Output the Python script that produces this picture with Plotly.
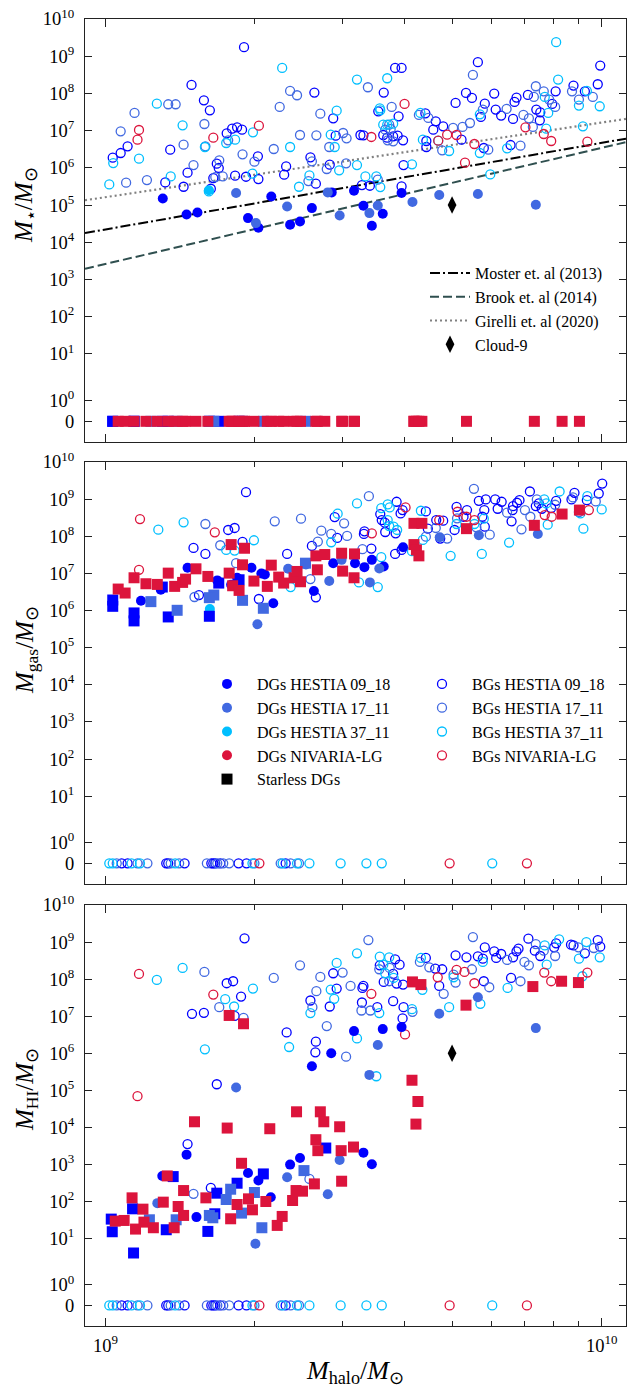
import numpy as np
import plotly.graph_objects as go

# ---------------- DATA (log10 values) ----------------
# x = log10(M_halo/Msun), y = log10(M/Msun)

# ---- Top panel: stellar mass ----
bg0918_star = [(9.279,9.242),(9.173,8.229),(9.421,8.022),(9.198,7.816),(9.210,7.547),(9.459,7.332),(9.244,6.928),
 (9.255,7.054),(9.265,7.090),(9.275,7.027),(9.464,6.865),(9.044,6.578),(9.030,6.399),(9.014,6.274),(9.130,6.489),
 (9.224,6.112),(9.228,5.996),(9.307,6.309),(9.364,6.040),(9.360,5.816),(9.452,6.085),(9.413,6.283),(9.120,5.610),
 (9.165,5.870),(9.157,5.493),(9.217,5.726),(9.212,5.439),(9.261,5.789),(9.283,5.762),(9.308,5.700),(9.424,5.574),
 (9.751,8.839),(9.998,8.749),(9.584,8.686),(9.597,8.686),(9.944,8.211),(9.993,8.247),(9.561,8.022),(9.727,8.013),
 (9.739,7.879),(9.706,7.744),(9.784,7.996),(9.852,7.960),(9.829,7.888),(9.825,7.771),(9.908,8.058),(9.967,8.058),
 (9.901,7.717),(9.550,7.520),(9.765,7.726),(9.757,7.368),(9.787,7.565),(9.798,7.404),(9.822,7.314),(9.869,7.565),
 (9.877,7.493),(9.876,7.278),(9.591,7.386),(9.645,7.466),(9.666,7.251),(9.681,7.117),(9.661,7.027),(9.560,6.883),
 (9.514,6.883),(9.520,6.874),(9.718,6.758),(9.568,6.812),(9.580,6.848),(9.589,6.865),(9.600,6.740),(9.647,6.722),
 (9.647,6.561),(9.763,6.534),(9.817,6.614),(9.601,6.076),(9.533,5.520),(9.517,5.538),(9.597,5.502)]
bg1711_star = [(9.372,8.067),(9.386,7.951),(9.126,7.709),(9.141,7.709),(9.351,7.637),(9.058,7.475),(9.433,7.457),
 (9.030,6.982),(9.199,7.179),(9.392,6.883),(9.425,6.874),(9.479,6.937),(9.486,6.794),(9.157,6.623),(9.201,6.578),
 (9.247,6.740),(9.276,6.363),(9.339,6.507),(9.451,6.561),(9.416,6.175),(9.300,6.166),(9.229,6.202),(9.177,6.076),
 (9.446,5.969),(9.485,6.121),(9.041,5.601),(9.083,5.673),(9.221,5.753),(9.236,5.771),(9.409,5.646),
 (9.741,8.498),(9.529,8.166),(9.868,8.193),(9.864,7.906),(9.884,8.058),(9.895,7.834),(9.907,7.637),(9.941,8.058),
 (9.983,7.906),(9.955,7.834),(9.577,7.637),(9.761,7.565),(9.809,7.583),(9.843,7.422),(9.854,7.332),(9.632,7.422),
 (9.651,7.341),(9.564,7.027),(9.575,7.045),(9.572,7.161),(9.701,7.072),(9.720,7.099),(9.735,7.206),(9.569,6.740),
 (9.580,6.713),(9.679,6.471),(9.772,6.489),(9.837,6.596),(9.862,7.099),(9.549,5.682)]
bg3711_star = [(9.356,8.686),(9.103,7.726),(9.466,7.538),(9.155,7.143),(9.297,6.955),(9.454,6.892),(9.067,6.247),
 (9.015,6.130),(9.200,6.561),(9.243,6.668),(9.261,6.758),(9.372,6.561),(9.462,6.561),(9.471,5.933),(9.007,5.556),
 (9.131,5.771),(9.208,5.368),(9.296,5.843),(9.390,5.493),(9.411,5.798),
 (9.909,9.377),(9.507,8.372),(9.568,8.408),(9.913,8.372),(9.971,8.067),(9.886,7.906),(9.997,7.655),(9.955,7.673),
 (9.553,7.601),(9.554,7.547),(9.755,7.439),(9.893,7.475),(9.635,7.475),(9.560,7.161),(9.568,7.161),(9.580,7.188),
 (9.640,6.758),(9.671,6.731),(9.693,6.453),(9.755,6.399),(9.810,6.525),(9.889,7.054),(9.963,7.117),(9.618,6.094),
 (9.507,6.076),(9.776,5.825),(9.524,5.771),(9.546,5.771),(9.554,5.484)]
bgniv_star = [(9.067,7.018),(9.064,6.758),(9.309,7.135),(9.217,6.812),(9.603,7.717),(9.536,6.830),(9.689,6.892),
 (9.708,6.883),(9.671,6.731),(9.744,6.641),(9.847,7.090),(9.884,6.910),(9.899,6.722),(9.972,6.704),(9.725,6.139)]
dg0918_star = [(9.115,5.179),(9.163,4.749),(9.185,4.803),(9.334,5.233),(9.287,4.650),(9.308,4.390),(9.372,4.471),
 (9.392,4.561),(9.416,4.919),(9.456,5.341),(9.501,5.386),(9.520,4.982),(9.537,4.444),(9.559,4.767),(9.597,5.323)]
dg1711_star = [(9.263,5.323),(9.366,4.964),(9.303,4.516),(9.448,5.341),(9.472,4.722),(9.532,4.785),(9.549,4.991),
 (9.619,5.081),(9.673,5.269),(9.751,5.296),(9.868,5.009)]
dg3711_star = [(9.208,5.400)]

# relations (straight lines in log-log: end points)
moster_logmh = [8.958, 10.05]
moster_logms = [4.250, 6.785]
brook_logmh = [8.958, 10.05]
brook_logms = [3.289, 6.690]
girelli_logmh = [8.958, 10.05]
girelli_logms = [5.130, 7.315]
cloud9_mh = 5e9
cloud9_mstar = 1e5
cloud9_mhi = 1e6

# ---- Middle panel: gas mass ----
bg0918_gas = [(9.283,9.188),(9.247,8.169),(9.260,8.223),(9.177,7.686),(9.201,7.525),(9.276,7.847),(9.462,8.517),
 (9.416,7.740),(9.467,7.954),(9.366,7.525),(9.188,6.417),(9.309,6.310),(9.424,6.355),
 (10.002,9.420),(9.995,9.152),(9.856,9.206),(9.946,9.170),(9.940,8.991),(9.971,8.973),(9.587,8.929),(9.554,8.598),
 (9.557,8.437),(9.563,8.366),(9.564,8.115),(9.585,8.080),(9.595,8.616),(9.599,8.705),(9.646,8.669),(9.708,8.794),
 (9.729,8.705),(9.722,8.526),(9.704,8.169),(9.753,8.955),(9.767,8.991),(9.764,8.705),(9.760,8.526),(9.765,8.258),
 (9.786,8.991),(9.799,8.929),(9.791,8.741),(9.821,8.705),(9.822,8.812),(9.830,8.902),(9.835,8.973),(9.819,8.401),
 (9.868,8.812),(9.874,8.884),(9.880,8.741),(9.899,8.759),(9.909,8.955),(9.667,8.437),(9.681,8.419),(9.650,8.205),
 (9.675,7.937),(9.521,8.062),(9.522,8.133),(9.536,7.668),(9.584,7.525),(9.597,7.633)]
bg1711_gas = [(9.201,8.330),(9.231,7.758),(9.341,8.401),(9.394,8.473),(9.481,8.348),(9.435,8.151),(9.428,7.856),
 (9.455,8.062),(9.487,8.008),(9.179,6.364),(9.413,6.846),(9.263,7.275),(9.743,9.277),(9.531,9.080),(9.943,9.045),
 (9.989,8.937),(9.810,8.634),(9.709,8.482),(9.748,8.240),(9.775,8.044),(9.839,8.187),(9.846,8.705),(9.857,8.526),
 (9.870,8.991),(9.907,8.848),(9.955,8.651),(9.689,7.937),(9.666,8.223),(9.518,7.651),(9.502,7.454),(9.646,7.990)]
bg3711_gas = [(9.106,8.178),(9.157,8.374),(9.243,7.633),(9.260,7.615),(9.299,7.892),(9.468,8.607),(9.455,7.838),
 (9.373,6.632),(9.393,6.784),(9.507,8.884),(9.916,9.206),(9.972,9.080),(10.001,8.723),(9.569,8.857),(9.573,8.777),
 (9.556,8.759),(9.569,8.437),(9.572,8.276),(9.581,8.258),(9.588,8.169),(9.636,8.687),(9.708,8.330),(9.744,8.330),
 (9.763,8.473),(9.885,8.991),(9.889,8.884),(9.892,8.312),(9.958,8.616),(9.964,8.205),(9.814,7.829),(9.759,7.525),
 (9.696,7.472),(9.556,7.436),(9.618,7.597),(9.511,6.757),(9.549,6.632),(9.640,7.901)]
bgniv_gas = [(9.069,8.464),(9.220,8.106),(9.067,7.097),(9.605,8.777),(9.710,8.660),(9.744,8.437),(9.728,8.526),
 (9.886,8.571),(9.900,8.526),(9.975,8.705),(9.673,8.437),(9.537,8.080)]
dg0918_gas = [(9.165,7.150),(9.294,7.150),(9.314,6.998),(9.321,6.971),(9.420,6.524),(9.459,7.275),(9.338,6.194),
 (9.265,6.882),(9.253,6.694),(9.225,6.811),(9.111,6.560),(9.071,6.265),(9.503,7.275),(9.522,7.168),(9.537,7.365),
 (9.561,7.186),(9.600,7.704)]
dg1711_gas = [(9.368,7.123),(9.404,7.240),(9.451,6.793),(9.476,7.365),(9.306,5.631),(9.552,7.132),(9.533,6.757),
 (9.674,7.972),(9.753,8.026),(9.872,8.062)]
dg3711_gas = [(9.210,6.042)]
sqniv_gas = [(9.025,6.578),(9.039,6.471),(9.057,6.882),(9.081,6.721),(9.104,6.703),(9.126,7.007),(9.139,6.650),
 (9.155,6.757),(9.161,6.846),(9.182,7.123),(9.206,6.918),(9.253,7.776),(9.280,7.677),(9.276,7.231),(9.249,7.007),
 (9.256,6.667),(9.269,6.542),(9.299,6.793),(9.326,6.650),(9.334,7.222),(9.349,6.900),(9.359,6.739),(9.380,6.882),
 (9.386,7.052),(9.393,6.775),(9.427,7.097),(9.424,7.472),(9.442,7.508),(9.478,7.061),(9.476,7.543),(9.502,7.525),
 (9.501,6.882),(9.622,8.348),(9.638,8.348),(9.622,7.776),(9.627,7.633),(9.632,7.472),(9.728,8.205),(9.865,8.294),
 (9.921,8.598),(9.956,8.705)]
sq0918_gas = [(9.014,6.283),(9.014,6.113),(9.057,5.935),(9.057,5.720),(9.126,5.827),(9.209,5.845),(9.114,6.632),
 (9.228,6.739),(9.269,6.828)]
sq1711_gas = [(9.091,6.239),(9.144,6.006),(9.218,6.417),(9.209,6.346),(9.276,6.274),(9.318,6.060),(9.403,7.275)]

# background galaxies with zero gas / HI (log10 M_halo)
zero_bg0918 = [9.032,9.044,9.122,9.126,9.159,9.213,9.217,9.221,9.231,9.268,9.284,9.363]
zero_bg1711 = [9.022,9.064,9.084,9.131,9.148,9.204,9.225,9.237,9.249,9.300,9.353,9.373,9.390]
zero_bg3711 = [9.007,9.014,9.052,9.069,9.140,9.296,9.357,9.386,9.411,9.474,9.526,9.557,9.780]
zero_bgniv = [9.310,9.694,9.850]

# ---- Bottom panel: HI mass ----
bg0918_hi = [(9.280,9.099),(9.244,7.888),(9.257,7.942),(9.273,7.529),(9.174,7.063),(9.198,7.090),(9.260,7.009),
 (9.459,8.157),(9.466,7.744),(9.452,7.260),(9.413,7.422),(9.365,6.561),(9.424,6.309),(9.423,6.022),(9.224,5.161),
 (9.165,3.547),(9.212,2.363),(9.853,9.090),(9.866,8.767),(9.877,8.623),(9.905,8.857),(9.909,8.964),(9.939,8.928),
 (9.944,8.910),(9.967,8.695),(9.993,9.054),(9.998,8.874),(9.765,8.857),(9.784,8.749),(9.798,8.677),(9.788,8.570),
 (9.822,8.587),(9.829,8.749),(9.833,8.821),(9.818,8.031),(9.706,8.641),(9.728,8.587),(9.751,8.614),(9.761,8.552),
 (9.763,7.942),(9.665,8.283),(9.679,8.265),(9.646,8.570),(9.673,7.816),(9.584,8.534),(9.593,8.390),(9.580,8.139),
 (9.561,7.924),(9.587,7.879),(9.600,7.852),(9.553,8.372),(9.520,7.816),(9.518,7.762),(9.517,7.368),(9.548,7.242),
 (9.580,7.404),(9.601,7.242),(9.599,6.937)]
bg1711_hi = [(9.199,8.193),(9.229,7.242),(9.278,6.955),(9.339,8.031),(9.392,8.372),(9.478,8.175),(9.433,8.058),
 (9.425,7.673),(9.417,7.242),(9.446,6.731),(9.485,5.906),(9.177,2.202),(9.411,2.605),(9.530,9.054),(9.741,9.135),
 (9.868,8.946),(9.884,8.767),(9.907,8.623),(9.954,8.857),(9.985,8.839),(9.810,8.516),(9.845,8.462),(9.854,8.372),
 (9.837,7.942),(9.739,8.265),(9.702,8.121),(9.706,7.906),(9.774,7.780),(9.653,8.318),(9.634,8.462),(9.682,7.601),
 (9.573,8.300),(9.572,7.942),(9.552,8.265),(9.494,7.816),(9.516,7.152),(9.534,7.152),(9.619,7.117)]
bg3711_hi = [(9.103,7.978),(9.155,8.300),(9.297,7.744),(9.241,7.457),(9.259,7.260),(9.466,8.435),(9.454,7.717),
 (9.461,7.466),(9.413,7.081),(9.370,6.166),(9.200,6.103),(9.507,8.695),(9.886,8.910),(9.890,8.390),(9.915,9.072),
 (9.955,8.552),(9.970,9.000),(9.997,8.587),(9.811,7.762),(9.761,8.462),(9.702,8.049),(9.636,8.570),(9.639,7.709),
 (9.553,8.605),(9.572,8.587),(9.560,8.390),(9.564,8.157),(9.581,8.031),(9.552,7.081),(9.618,7.188),(9.693,7.242),
 (9.756,7.332),(9.962,8.076),(9.507,6.399),(9.546,5.377)]
bgniv_hi = [(9.067,8.139),(9.217,7.583),(9.064,4.839),(9.708,8.247),(9.724,8.193),(9.670,8.049),(9.744,7.888),
 (9.536,7.601),(9.885,8.175),(9.899,7.942),(9.972,8.175),(9.604,6.507)]
dg0918_hi = [(9.455,5.996),(9.416,5.646),(9.163,3.260),(9.372,2.991),(9.392,3.170),(9.287,2.767),(9.308,2.561),
 (9.333,2.112),(9.114,2.686),(9.183,1.574),(9.501,6.596),(9.559,6.650),(9.597,6.704),(9.520,3.314),(9.537,3.000)]
dg1711_hi = [(9.263,5.072),(9.366,2.650),(9.472,3.117),(9.448,2.193),(9.104,1.951),(9.302,0.857),(9.549,6.220),
 (9.532,5.413),(9.673,7.063),(9.751,7.511),(9.868,6.677)]
sqniv_hi = [(9.249,7.018),(9.278,6.794),(9.179,4.148),(9.245,3.978),(9.331,3.960),(9.385,4.417),(9.433,4.417),
 (9.440,4.148),(9.472,4.013),(9.424,3.664),(9.428,3.368),(9.475,3.368),(9.500,3.466),(9.124,2.686),(9.274,3.027),
 (9.157,2.291),(9.202,2.094),(9.053,2.094),(9.075,1.789),(9.116,1.978),(9.146,1.861),(9.157,1.619),(9.252,1.529),
 (9.265,1.915),(9.288,2.067),(9.296,1.771),(9.323,1.996),(9.377,2.022),(9.384,2.291),(9.397,2.274),(9.421,2.471),
 (9.476,2.543),(9.356,1.592),(9.346,1.350),(9.019,1.466),(9.037,1.484),(9.060,1.251),(9.077,1.439),(9.096,1.287),
 (9.138,1.287),(9.619,7.924),(9.636,7.852),(9.618,5.269),(9.630,4.695),(9.626,4.085),(9.727,7.296),(9.862,7.798),
 (9.920,7.942),(9.954,7.906)]
sq0918_hi = [(9.011,1.520),(9.013,1.179),(9.054,1.798),(9.056,0.605),(9.122,1.233),(9.206,1.188),(9.220,1.664),
 (9.224,2.220),(9.265,2.489),(9.318,2.740),(9.444,3.439),(9.136,2.668)]
sq1711_hi = [(9.252,2.327),(9.243,2.049),(9.300,2.238),(9.274,1.682),(9.216,1.556),(9.209,1.619),(9.315,1.287),
 (9.400,2.830),(9.088,1.502),(9.142,1.502)]

ytick_vals = [0] + [10.0**k for k in range(0, 11)]
ytick_text = ["0"] + ["10<sup>%d</sup>" % k for k in range(0, 11)]
xtick_vals = [1e9, 1e10]
xtick_text = ["10<sup>9</sup>", "10<sup>10</sup>"]

# ---------------- STYLE ----------------
C0918 = "#0000ff"
C1711 = "#4169e1"
C3711 = "#00bfff"
CNIV = "#dc143c"
FONT = "Liberation Serif"
W, H = 627, 1387
ML, MR, MT, MB = 85, 1, 19, 61


def T(v):
    """matplotlib symlog (linthresh=2, linscale=1, base 10) in decade units."""
    v = np.asarray(v, dtype=float)
    a = np.abs(v)
    adj = 1.0 / (1.0 - 0.1)
    with np.errstate(divide="ignore"):
        outside = np.sign(v) * (adj + np.log10(np.where(a > 0, a, 1.0) / 2.0))
    return np.where(a <= 2.0, v * adj / 2.0, outside)


fig = go.Figure()


def pts(p):
    x = [10.0 ** a for a, b in p]
    y = T([10.0 ** b for a, b in p])
    return x, y


def add(p, panel, kind, color, zero=False):
    if zero:
        x = [10.0 ** a for a in p]
        y = T(np.zeros(len(p)))
    else:
        x, y = pts(p)
    ax = {1: ("x", "y"), 2: ("x2", "y2"), 3: ("x3", "y3")}[panel]
    if kind == "open":
        mk = dict(symbol="circle-open", size=9, color=color, line=dict(width=1.3, color=color))
    elif kind == "filled":
        mk = dict(symbol="circle", size=10, color=color, line=dict(width=0))
    else:
        mk = dict(symbol="square", size=11, color=color, line=dict(width=0))
    fig.add_trace(go.Scatter(x=x, y=y, mode="markers", marker=mk, xaxis=ax[0], yaxis=ax[1],
                             showlegend=False, hoverinfo="skip"))


MOSTER_LINE = dict(color="black", width=2, dash="10px,3px,2px,3px")
BROOK_LINE = dict(color="#2f4f4f", width=2, dash="9px,4px")
GIRELLI_LINE = dict(color="#808080", width=2.2, dash="2px,3px")

# ---- top panel ----
fig.add_trace(go.Scatter(x=[10 ** v for v in girelli_logmh], y=T([10 ** v for v in girelli_logms]), mode="lines",
                         line=GIRELLI_LINE, xaxis="x", yaxis="y", showlegend=False, hoverinfo="skip"))
fig.add_trace(go.Scatter(x=[10 ** v for v in brook_logmh], y=T([10 ** v for v in brook_logms]), mode="lines",
                         line=BROOK_LINE, xaxis="x", yaxis="y", showlegend=False, hoverinfo="skip"))
fig.add_trace(go.Scatter(x=[10 ** v for v in moster_logmh], y=T([10 ** v for v in moster_logms]), mode="lines",
                         line=MOSTER_LINE, xaxis="x", yaxis="y", showlegend=False, hoverinfo="skip"))
add(bg0918_star, 1, "open", C0918)
add(bg1711_star, 1, "open", C1711)
add(bg3711_star, 1, "open", C3711)
add(bgniv_star, 1, "open", CNIV)
add(dg0918_star, 1, "filled", C0918)
add(dg1711_star, 1, "filled", C1711)
add(dg3711_star, 1, "filled", C3711)
# starless DGs sit at M* = 0
add([a for a, b in sq0918_gas], 1, "square", C0918, zero=True)
add([a for a, b in sq1711_gas], 1, "square", C1711, zero=True)
add([a for a, b in sqniv_gas], 1, "square", CNIV, zero=True)
fig.add_trace(go.Scatter(x=[cloud9_mh], y=T([cloud9_mstar]), mode="markers",
                         marker=dict(symbol="diamond-tall", size=12.5, color="black"), xaxis="x", yaxis="y",
                         showlegend=False, hoverinfo="skip"))

# ---- middle panel ----
add(bg0918_gas, 2, "open", C0918)
add(bg1711_gas, 2, "open", C1711)
add(bg3711_gas, 2, "open", C3711)
add(bgniv_gas, 2, "open", CNIV)
add(zero_bg0918, 2, "open", C0918, zero=True)
add(zero_bg1711, 2, "open", C1711, zero=True)
add(zero_bg3711, 2, "open", C3711, zero=True)
add(zero_bgniv, 2, "open", CNIV, zero=True)
add(dg0918_gas, 2, "filled", C0918)
add(dg1711_gas, 2, "filled", C1711)
add(dg3711_gas, 2, "filled", C3711)
add(sq0918_gas, 2, "square", C0918)
add(sq1711_gas, 2, "square", C1711)
add(sqniv_gas, 2, "square", CNIV)

# ---- bottom panel ----
add(bg0918_hi, 3, "open", C0918)
add(bg1711_hi, 3, "open", C1711)
add(bg3711_hi, 3, "open", C3711)
add(bgniv_hi, 3, "open", CNIV)
add(zero_bg0918, 3, "open", C0918, zero=True)
add(zero_bg1711, 3, "open", C1711, zero=True)
add(zero_bg3711, 3, "open", C3711, zero=True)
add(zero_bgniv, 3, "open", CNIV, zero=True)
add(dg0918_hi, 3, "filled", C0918)
add(dg1711_hi, 3, "filled", C1711)
add(sq0918_hi, 3, "square", C0918)
add(sq1711_hi, 3, "square", C1711)
add(sqniv_hi, 3, "square", CNIV)
fig.add_trace(go.Scatter(x=[cloud9_mh], y=T([cloud9_mhi]), mode="markers",
                         marker=dict(symbol="diamond-tall", size=12.5, color="black"), xaxis="x3", yaxis="y3",
                         showlegend=False, hoverinfo="skip"))

# ---- legend entries ----
def leg(name, legend, **kw):
    fig.add_trace(go.Scatter(x=[None], y=[None], name=name, legend=legend, showlegend=True, **kw))

leg("Moster et. al (2013)", "legend", mode="lines", line=MOSTER_LINE)
leg("Brook et. al (2014)", "legend", mode="lines", line=BROOK_LINE)
leg("Girelli et. al (2020)", "legend", mode="lines", line=GIRELLI_LINE)
leg("Cloud-9", "legend", mode="markers", marker=dict(symbol="diamond-tall", size=12.5, color="black"))

for nm, c in [("DGs HESTIA 09_18", C0918), ("DGs HESTIA 17_11", C1711), ("DGs HESTIA 37_11", C3711),
              ("DGs NIVARIA-LG", CNIV)]:
    leg(nm, "legend2", mode="markers", marker=dict(symbol="circle", size=10, color=c))
leg("Starless DGs", "legend2", mode="markers", marker=dict(symbol="square", size=11, color="black"))
for nm, c in [("BGs HESTIA 09_18", C0918), ("BGs HESTIA 17_11", C1711), ("BGs HESTIA 37_11", C3711),
              ("BGs NIVARIA-LG", CNIV)]:
    leg(nm, "legend3", mode="markers", marker=dict(symbol="circle-open", size=9, color=c, line=dict(width=1.3, color=c)))

# ---------------- AXES ----------------
PH = H - MT - MB


def dom(top_px, bot_px):
    return [(H - MB - bot_px) / PH, (H - MB - top_px) / PH]


def px_x(p):
    return (p - ML) / (W - ML - MR)


def px_y(p):
    return (H - MB - p) / PH


TICKFONT = dict(family=FONT, size=18.5, color="black")
xcommon = dict(type="log", range=[8.958, 10.05], showgrid=False, zeroline=False, showline=True,
               linecolor="#222", linewidth=1.2, mirror="ticks", ticks="inside", ticklen=8, tickwidth=1,
               tickcolor="#222", tickvals=xtick_vals, ticktext=xtick_text, showticklabels=False,
               minor=dict(tickvals=[k * 1e9 for k in range(2, 10)], ticks="inside", ticklen=5, tickcolor="#222"),
               tickfont=TICKFONT)
ycommon = dict(range=[float(T(-1.0)), float(T(1e10))], showgrid=False, zeroline=False, showline=True,
               linecolor="#222", linewidth=1.2, mirror="ticks", ticks="inside", ticklen=7, tickwidth=1,
               tickcolor="#222", tickvals=list(T(ytick_vals)), ticktext=ytick_text,
               tickfont=TICKFONT, ticklabelstandoff=6)

LEGFONT = dict(family=FONT, size=16, color="black")
fig.update_layout(
    width=W, height=H, margin=dict(l=ML, r=MR, t=MT, b=MB),
    plot_bgcolor="white", paper_bgcolor="white",
    font=dict(family=FONT, color="black"),
    xaxis=dict(xcommon, anchor="y", domain=[0, 1]),
    xaxis2=dict(xcommon, anchor="y2", domain=[0, 1]),
    xaxis3=dict(xcommon, anchor="y3", domain=[0, 1]),
    yaxis=dict(ycommon, anchor="x", domain=dom(19, 442)),
    yaxis2=dict(ycommon, anchor="x2", domain=dom(462, 884)),
    yaxis3=dict(ycommon, anchor="x3", domain=dom(905, 1326)),
    legend=dict(x=px_x(425), y=px_y(256), xanchor="left", yanchor="top", bgcolor="rgba(0,0,0,0)",
                font=LEGFONT, itemwidth=40),
    legend2=dict(x=px_x(197), y=px_y(667), xanchor="left", yanchor="top", bgcolor="rgba(0,0,0,0)",
                 font=LEGFONT, itemwidth=50),
    legend3=dict(x=px_x(412), y=px_y(667), xanchor="left", yanchor="top", bgcolor="rgba(0,0,0,0)",
                 font=LEGFONT, itemwidth=50),
)

# bottom x tick labels, centred under their ticks
for v, t in zip(xtick_vals, xtick_text):
    fig.add_annotation(text=t, xref="x3", yref="paper", x=np.log10(v), y=px_y(1344),
                       xanchor="center", yanchor="middle", showarrow=False, font=TICKFONT)

# axis titles as annotations (placed like the reference)
YT_FONT = dict(family=FONT, size=25, color="black")
for txt, cy in [("<i>M</i><sub>⋆</sub>/<i>M</i><sub>⊙</sub>", 205),
                ("<i>M</i><sub>gas</sub>/<i>M</i><sub>⊙</sub>", 650),
                ("<i>M</i><sub>HI</sub>/<i>M</i><sub>⊙</sub>", 1090)]:
    fig.add_annotation(text=txt, textangle=-90, xref="paper", yref="paper", x=px_x(26), y=px_y(cy),
                       xanchor="center", yanchor="middle", showarrow=False, font=YT_FONT)
fig.add_annotation(text="<i>M</i><sub>halo</sub>/<i>M</i><sub>⊙</sub>", xref="paper", yref="paper",
                   x=px_x(355), y=px_y(1372), xanchor="center", yanchor="middle", showarrow=False,
                   font=dict(family=FONT, size=26, color="black"))

fig.write_html("out.html", config={"displayModeBar": False},
               post_script="document.body.style.margin='0px';document.body.style.overflow='hidden';")
